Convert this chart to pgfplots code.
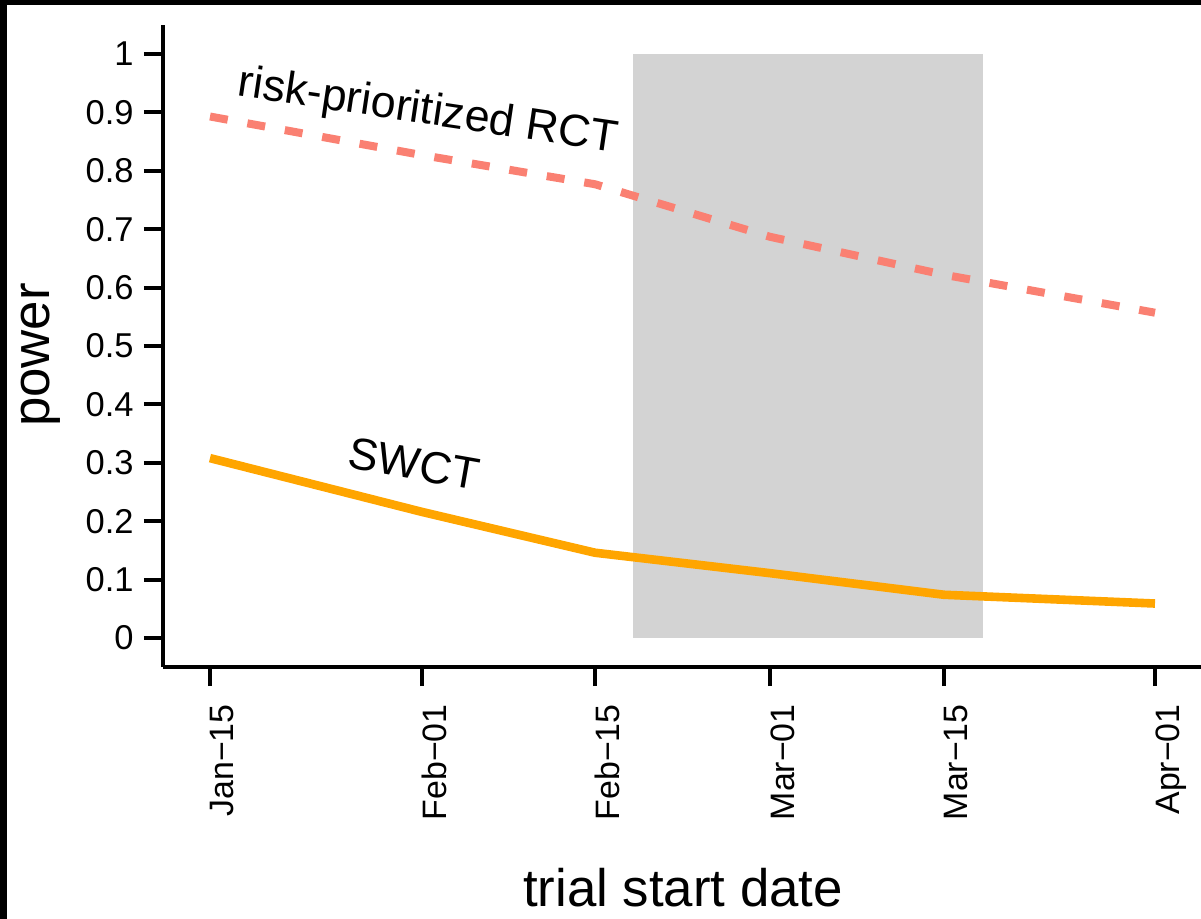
\documentclass[border=0pt]{standalone}
\usepackage{pgfplots}
\pgfplotsset{compat=1.18}
\usepackage{fontspec}
\setmainfont{Liberation Sans}
\definecolor{salmonc}{RGB}{250,128,114}
\definecolor{orangec}{RGB}{255,165,0}
\definecolor{grayc}{RGB}{211,211,211}
\begin{document}
\begin{tikzpicture}
\useasboundingbox (-81.5bp,-126bp) rectangle (519bp,333.5bp);
\begin{axis}[
  at={(0,0)}, anchor=south west,
  scale only axis, width=519bp, height=321bp,
  xmin=-3.83, xmax=80.75, ymin=-0.0497, ymax=1.0497,
  axis x line*=bottom, axis y line*=left,
  axis line style={line width=2bp, -, black},
  tick style={line width=2bp, black},
  major tick length=9.5bp, tick align=outside,
  xtick={0,17.25,31.37,45.63,59.81,77},
  xticklabels={Jan−15,Feb−01,Feb−15,Mar−01,Mar−15,Apr−01},
  ytick={0,0.1,0.2,0.3,0.4,0.5,0.6,0.7,0.8,0.9,1},
  yticklabels={0,0.1,0.2,0.3,0.4,0.5,0.6,0.7,0.8,0.9,1},
  x tick label style={rotate=90, anchor=north east, font=\fontsize{17}{20}\selectfont, inner xsep=9bp, inner ysep=0pt},
  y tick label style={anchor=east, font=\fontsize{17.3}{20}\selectfont, inner xsep=5bp, inner ysep=0pt},
  xlabel={trial start date},
  xlabel style={at={(rel axis cs:0.501,-0.344)}, anchor=center, font=\fontsize{26.5}{30}\selectfont},
  ylabel={power},
  ylabel style={at={(rel axis cs:-0.1175,0.486)}, anchor=center, font=\fontsize{26.5}{30}\selectfont},
  clip=false,
]
\addplot[fill=grayc, draw=none] coordinates {(34.5,0) (34.5,1) (63,1) (63,0)} -- cycle;
\addplot[salmonc, line width=4bp, dash pattern=on 9bp off 10bp] coordinates {(0,0.893) (17.25,0.827) (31.37,0.777) (45.63,0.687) (59.81,0.622) (77,0.557)};
\addplot[orangec, line width=4.3bp] coordinates {(0,0.308) (17.25,0.216) (31.37,0.146) (45.63,0.111) (59.81,0.074) (77,0.059)};
\node[rotate=-8.5, font=\fontsize{22.5}{27}\selectfont] at (axis cs:17.76,0.90) {risk-prioritized RCT};
\node[rotate=-10, font=\fontsize{22.5}{27}\selectfont] at (axis cs:16.6,0.298) {SWCT};
\end{axis}
\fill[black] (-81.5bp,-126bp) rectangle (-78bp,333.5bp);
\fill[black] (-81.5bp,331bp) rectangle (519bp,333.5bp);
\end{tikzpicture}
\end{document}
